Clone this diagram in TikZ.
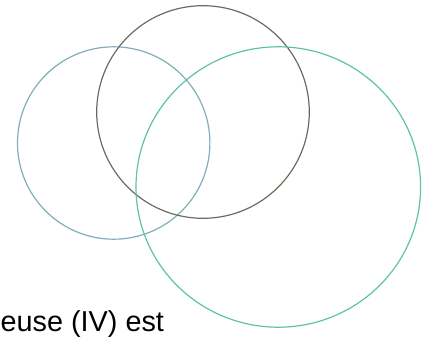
\documentclass[tikz,border=0pt]{standalone}
\usepackage{fontspec}
\setmainfont{Liberation Sans}
\definecolor{ringblue}{HTML}{7FAFB8}
\definecolor{ringbrown}{HTML}{6E6A5E}
\definecolor{ringgreen}{HTML}{5EC2A8}
\tikzset{ring/.style={line width=1.2pt}}

\begin{document}
\begin{tikzpicture}[x=1pt,y=-1pt]

\useasboundingbox (0,0) rectangle (430,337);

%circles
\coordinate (cleft) at (113.7,143);
\coordinate (ctop) at (203,112);
\coordinate (cright) at (278.3,187);
\draw[ring, ringblue] (cleft) circle[radius=96.2];
\draw[ring, ringbrown] (ctop) circle[radius=106.3];
\draw[ring, ringgreen] (cright) ellipse[x radius=142.3, y radius=140.2];

\node[anchor=base west, inner sep=0pt, font=\fontsize{28.8}{32}\selectfont] (caption) at (0.5,331.5) {euse (IV) est};

\end{tikzpicture}
\end{document}
